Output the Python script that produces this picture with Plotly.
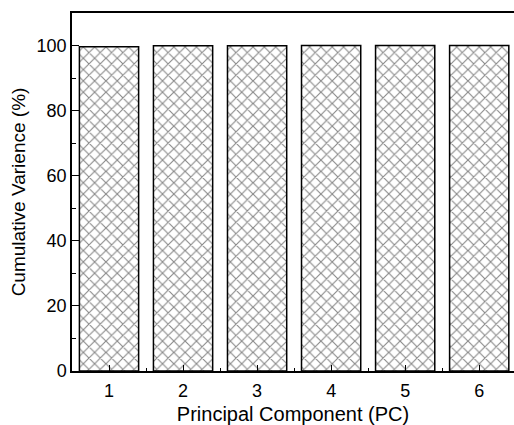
import plotly.graph_objects as go

pcs = [1, 2, 3, 4, 5, 6]
cum_var = [99.6, 99.9, 99.95, 100.0, 100.0, 100.0]
y_ticks = [0, 20, 40, 60, 80, 100]

fig = go.Figure()
fig.add_trace(go.Bar(
    x=pcs, y=cum_var, width=0.8,
    marker=dict(color="white", line=dict(color="black", width=1.5),
                pattern=dict(shape="x", fgcolor="#111", bgcolor="white", size=8, solidity=0.26)),
))

font = "Liberation Sans, Arial, sans-serif"
fig.update_layout(
    width=514, height=425,
    margin=dict(l=72, r=0, t=13, b=54),
    plot_bgcolor="white", paper_bgcolor="white",
    showlegend=False,
    font=dict(family=font, size=18, color="black"),
)
fig.update_xaxes(
    range=[0.5, 6.47], tickvals=pcs, ticks="inside", ticklen=6, tickwidth=1, tickcolor="black",
    showline=True, linecolor="black", linewidth=2, mirror=True, showgrid=False, zeroline=False,
    minor=dict(tickvals=[1.5, 2.5, 3.5, 4.5, 5.5], ticks="inside", ticklen=3, tickcolor="black"),
    title=dict(text="Principal Component (PC)", font=dict(size=20), standoff=10),
    tickfont=dict(size=18), ticklabelstandoff=2, automargin=False,
)
fig.update_yaxes(
    range=[0, 110], tickvals=y_ticks, ticks="inside", ticklen=7, tickwidth=1, tickcolor="black",
    showline=True, linecolor="black", linewidth=1.5, mirror=False, showgrid=False, zeroline=False,
    minor=dict(tickvals=[10, 30, 50, 70, 90], ticks="inside", ticklen=4, tickcolor="black"),
    title=dict(text="Cumulative Varience (%)", font=dict(size=19), standoff=6),
    tickfont=dict(size=18), automargin=False,
)
fig.write_html("out.html")
